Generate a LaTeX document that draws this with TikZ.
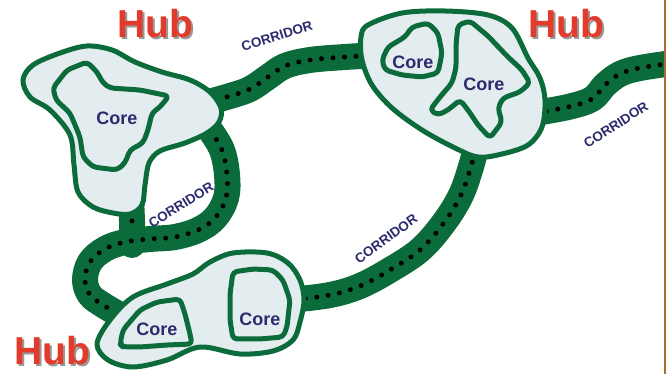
\documentclass[tikz,border=0pt]{standalone}
\usepackage{fontspec}
\setmainfont{Liberation Sans}
\definecolor{cgreen}{HTML}{0B6B3A}
\definecolor{hubfill}{HTML}{E3EDEF}
\definecolor{navy}{HTML}{2B2B6E}
\definecolor{hubred}{HTML}{E23B2B}
\definecolor{edgebrown}{HTML}{A86A2E}
\tikzset{
  corridor/.style={draw=cgreen, line width=26pt, line cap=round, line join=round,
    postaction={draw=black, line width=5pt, line cap=round, dash pattern=on 0pt off 11.5pt}},
  hubshape/.style={fill=hubfill, draw=cgreen, line width=5pt, line join=round},
  coreshape/.style={fill=hubfill, draw=cgreen, line width=5pt, line join=round, rounded corners=4pt},
  hublabel/.style={text=hubred, font=\fontsize{39}{39}\selectfont\bfseries, inner sep=0pt},
  hubshadow/.style={text=black!40, font=\fontsize{39}{39}\selectfont\bfseries, inner sep=0pt},
  corelabel/.style={text=navy, font=\fontsize{18}{18}\selectfont\bfseries, inner sep=0pt},
  corrlabel/.style={text=navy, font=\fontsize{13.5}{13.5}\selectfont\bfseries, inner sep=0pt},
}
\begin{document}
\begin{tikzpicture}[x=1pt, y=-1pt]
\useasboundingbox (0,0) rectangle (670,374);
\fill[white] (0,0) rectangle (670,374);

% corridors
\draw[corridor] plot[smooth, tension=0.6] coordinates {(205,103) (230,96) (250,89) (268,77) (285,66) (310,60) (345,57) (380,55)};
\draw[corridor] plot[smooth, tension=0.6] coordinates {(131,198) (132,222) (132,245)};
\draw[corridor] plot[smooth, tension=0.6] coordinates {(210,130) (222,150) (227,175) (226,198) (215,218) (198,230) (175,237) (150,239) (125,242) (105,249) (90,262) (85,280) (90,295) (103,305) (120,315)};
\draw[corridor] plot[smooth, tension=0.6] coordinates {(478,140) (470,170) (460,197) (443,224) (420,250) (390,270) (360,286) (330,295) (290,300)};
\begin{scope}
\clip (0,0) rectangle (664,374);
\draw[corridor] plot[smooth, tension=0.6] coordinates {(535,113) (568,107) (592,99) (605,85) (620,74) (640,68) (680,62)};
\end{scope}

% left hub
\draw[hubshape] plot[smooth cycle, tension=0.55] coordinates {(23,80) (33,65) (60,53) (87,46) (112,50) (135,62) (162,72) (190,80) (210,92) (221,108) (219,122) (207,133) (185,143) (160,151) (149,163) (145,185) (142,205) (130,214) (113,213) (93,207) (78,192) (74,165) (70,135) (50,110) (30,97)};
\draw[coreshape] (53,88) -- (67,70) -- (87,62) -- (97,72) -- (103,83) -- (110,88) -- (140,90) -- (169,96) -- (160,107) -- (152,113) -- (148,130) -- (143,143) -- (130,150) -- (125,163) -- (117,170) -- (93,167) -- (83,157) -- (80,137) -- (70,113) -- (56,100) -- cycle;

% top-right hub
\draw[hubshape] plot[smooth cycle, tension=0.55] coordinates {(368,25) (402,13) (445,11) (488,15) (512,28) (528,58) (540,78) (545,100) (542,127) (528,145) (502,154) (478,157) (455,148) (422,130) (392,108) (372,85) (362,60) (361,37)};
\draw[coreshape] (382,60) -- (388,47) -- (405,37) -- (412,27) -- (428,23) -- (438,33) -- (442,53) -- (438,73) -- (422,77) -- (402,75) -- (385,70) -- cycle;
\draw[coreshape] (458,25) -- (470,21) -- (488,36) -- (507,56) -- (522,70) -- (530,83) -- (520,92) -- (503,98) -- (498,108) -- (502,122) -- (490,138) -- (478,125) -- (468,110) -- (460,100) -- (448,110) -- (438,115) -- (430,110) -- (440,97) -- (452,83) -- (456,68) -- (456,45) -- cycle;

% bottom hub
\draw[hubshape] plot[smooth cycle, tension=0.55] coordinates {(97,344) (110,320) (133,297) (167,284) (193,274) (210,262) (233,253) (267,253) (288,263) (300,280) (304,300) (300,322) (293,340) (273,351) (240,354) (200,347) (167,360) (133,367) (108,360)};
\draw[coreshape] (120,344) -- (123,330) -- (140,310) -- (157,302) -- (180,299) -- (185,314) -- (190,334) -- (192,344) -- (167,345) -- (140,347) -- (123,347) -- cycle;
\draw[coreshape] (233,272) -- (253,269) -- (273,270) -- (283,280) -- (290,300) -- (287,327) -- (283,337) -- (260,339) -- (233,339) -- (230,320) -- (230,294) -- cycle;

% labels
\node[corelabel] (c1) at (117,118) {Core};
\node[corelabel] (c2) at (413,62) {Core};
\node[corelabel] (c3) at (484,84) {Core};
\node[corelabel] (c4) at (157,329) {Core};
\node[corelabel] (c5) at (260,319) {Core};

\node[corrlabel, rotate=17] (r1) at (277,36) {CORRIDOR};
\node[corrlabel, rotate=32] (r2) at (181,205) {CORRIDOR};
\node[corrlabel, rotate=36] (r3) at (386,239) {CORRIDOR};
\node[corrlabel, rotate=33] (r4) at (616,125) {CORRIDOR};

\node[hubshadow] (h1s) at (157,26) {Hub};
\node[hublabel] (h1) at (155,24) {Hub};
\node[hubshadow] (h2s) at (568,26) {Hub};
\node[hublabel] (h2) at (566,24) {Hub};
\node[hubshadow] (h3s) at (54,353) {Hub};
\node[hublabel] (h3) at (52,351) {Hub};

\draw[edgebrown, line width=2pt] (665,0) -- (665,374);
\end{tikzpicture}
\end{document}
